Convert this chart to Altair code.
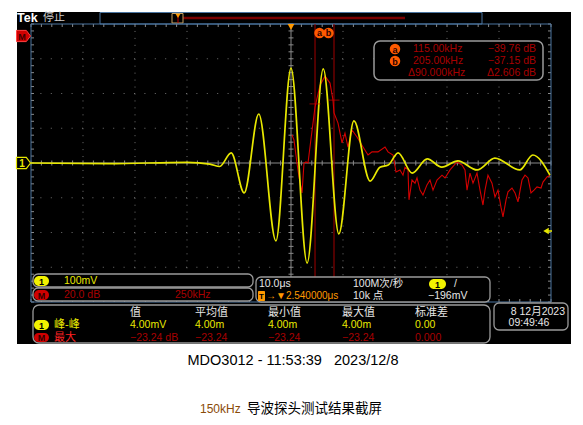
import altair as alt
import pandas as pd

# ---------------- data ----------------
# CH1 (yellow) time-domain trace: time in µs (10 µs/div, trigger at centre), voltage in mV (100 mV/div)
ch1_time = [-50, -35, -20, -15.6, -13.7, -11.5, -9.0, -6.2, -2.9, 0.0, 3.1, 6.2, 9.2,
            12.1, 15.2, 17.1, 18.7, 20.6, 23.3, 26.2, 29.0, 32.1, 35.8, 39.2, 44.0, 46.5, 49.8]
ch1_mv = [0, -2, 2, -3, -10, 29, -86, 141, -224, 273, -288, 271, -204,
          121, -52, -12, -6, 29, -29, 12, -12, 6, -20, 14, -20, 23, -35]

# Math (red) FFT trace on the same graticule (horizontal µs-equivalent, vertical mV-equivalent)
fft_pos = [0.19, 0.58, 1.15, 1.54, 2.12, 2.5, 2.88, 3.27, 3.65, 4.62, 5.58, 6.54, 7.5, 8.08,
           8.27, 9.04, 9.81, 10.38, 10.96, 11.73, 12.69, 13.85, 14.81, 15.58, 16.73, 18.08,
           18.65, 19.62, 20.19, 20.96, 21.54, 21.92, 22.5, 22.69, 23.27, 23.85, 24.23, 24.81,
           25.38, 26.15, 26.73, 27.31, 28.08, 29.04, 29.62, 30.58, 31.92, 32.88, 33.46, 33.85,
           34.42, 35.0, 35.77, 36.35, 36.92, 37.31, 37.88, 38.65, 39.23, 39.81, 40.38, 40.77,
           41.35, 41.73, 42.5, 43.08, 43.65, 44.42, 45.0, 45.58, 46.15, 46.73, 47.31, 48.08,
           48.46, 49.23, 49.81]
fft_val = [81, 66, 0, -40, -86, 0, 3, 0, 46, 161, 224, 250, 230, 181,
           144, 115, 58, 86, 46, 95, 75, 46, 23, 32, 32, 46,
           32, 23, -26, -20, -35, -12, -20, -106, -49, -58, -43, -78,
           -92, -63, -49, -78, -49, -35, -43, -20, 3, -6, -20, -78,
           -29, -58, -29, -78, -121, -78, -35, -58, -98, -78, -127, -155,
           -106, -83, -72, -86, -112, -49, -35, -43, -86, -78, -69, -72,
           -55, -40, -35]

# cursors a / b
cursor_pos = [4.62, 8.27]
cursor_val = [170, 181]
cursor_freq = ["115.00kHz", "205.00kHz"]
cursor_db = ["−39.76 dB", "−37.15 dB"]
delta_freq = "Δ90.000kHz"
delta_db = "Δ2.606 dB"

# graticule
grid_time = [-40, -30, -20, -10, 10, 20, 30, 40]
grid_mv = [-300, -200, -100, 100, 200, 300]
minor_time = [i * 2 for i in range(-25, 26)]
minor_mv = [i * 20 for i in range(-20, 21)]

# measurement table
meas_headers = ["值", "平均值", "最小值", "最大值", "标准差"]
meas_ch1 = ["4.00mV", "4.00m", "4.00m", "4.00m", "0.00"]
meas_math = ["−23.24 dB", "−23.24", "−23.24", "−23.24", "0.000"]

# ---------------- layout ----------------
W, H = 520, 278
OX, OY = 31, 24
FONT = "Liberation Sans, Noto Sans CJK SC"
CJK = "Noto Sans CJK SC"
YEL = "#e8e800"
RED = "#d40000"
DRED = "#a80000"
ORG = "#ff9900"


def X(p):
    return p - OX


def Y(p):
    return p - OY


ONE = pd.DataFrame({"k": [0]})
xs = alt.Scale(domain=[-50, 50], nice=False, zero=False)
ys = alt.Scale(domain=[-400, 400], nice=False, zero=False)


def rect(x1, y1, x2, y2, fill="black", stroke=None, r=0, sw=1):
    kw = dict(cornerRadius=r)
    if fill is None:
        kw["fillOpacity"] = 0
        kw["fill"] = "black"
    else:
        kw["fill"] = fill
    if stroke:
        kw.update(stroke=stroke, strokeWidth=sw)
    return alt.Chart(ONE).mark_rect(**kw).encode(
        x=alt.value(X(x1)), x2=alt.value(X(x2)), y=alt.value(Y(y1)), y2=alt.value(Y(y2)))


def seg(x1, y1, x2, y2, color, sw=1):
    return alt.Chart(ONE).mark_rule(color=color, strokeWidth=sw).encode(
        x=alt.value(X(x1)), x2=alt.value(X(x2)), y=alt.value(Y(y1)), y2=alt.value(Y(y2)))


def text(s, x, y, color, size=10, align="left", bold=False, font=FONT):
    return alt.Chart(ONE).mark_text(
        text=s, align=align, baseline="middle", color=color, fontSize=size, font=font,
        fontWeight="bold" if bold else "normal").encode(x=alt.value(X(x)), y=alt.value(Y(y)))


def sym(x, y, shape, size, fill, stroke=None, sw=1):
    kw = dict(shape=shape, size=size, filled=True, color=fill, opacity=1)
    if stroke:
        kw.update(stroke=stroke, strokeWidth=sw)
    return alt.Chart(ONE).mark_point(**kw).encode(x=alt.value(X(x)), y=alt.value(Y(y)))


layers = []
# black screenshot background
layers.append(rect(17, 12, 571, 344, fill="black"))

# top status bar
layers.append(text("Tek", 17, 18, "white", 12.5, bold=True))
layers.append(text("停止", 43, 18, "#cfcfcf", 11, font=CJK))
layers.append(rect(100, 12.5, 482, 24, fill=None, stroke="#4a74a0"))
layers.append(seg(183, 18, 405, 18, "#7a0000", 2.5))
layers.append(rect(172, 13.5, 183, 23, fill=None, stroke="#c8a060"))
layers.append(seg(178, 16, 178, 23, "#c00000", 1))
layers.append(sym(178, 16, "triangle-down", 22, ORG))

# graticule
tv = pd.DataFrame({"t": grid_time})
th = pd.DataFrame({"v": grid_mv})
mt = pd.DataFrame({"t": minor_time})
mv = pd.DataFrame({"v": minor_mv})
GC = "#707070"
layers.append(alt.Chart(tv).mark_rule(color=GC, strokeDash=[1, 5.95]).encode(
    x=alt.X("t:Q", scale=xs, axis=None)))
layers.append(alt.Chart(th).mark_rule(color=GC, strokeDash=[1, 9.4]).encode(
    y=alt.Y("v:Q", scale=ys, axis=None)))
layers.append(alt.Chart(pd.DataFrame({"t": [0]})).mark_rule(color="#8a8a8a").encode(
    x=alt.X("t:Q", scale=xs, axis=None)))
layers.append(alt.Chart(pd.DataFrame({"v": [0]})).mark_rule(color="#8a8a8a").encode(
    y=alt.Y("v:Q", scale=ys, axis=None)))
for (a, b) in [(H / 2 - 2.5, H / 2 + 2.5), (0, 3), (H - 3, H)]:
    layers.append(alt.Chart(mt).mark_rule(color="#8a8a8a").encode(
        x=alt.X("t:Q", scale=xs, axis=None), y=alt.value(a), y2=alt.value(b)))
for (a, b) in [(W / 2 - 2.5, W / 2 + 2.5), (0, 3), (W - 3, W)]:
    layers.append(alt.Chart(mv).mark_rule(color="#8a8a8a").encode(
        y=alt.Y("v:Q", scale=ys, axis=None), x=alt.value(a), x2=alt.value(b)))
layers.append(alt.Chart(ONE).mark_rect(fillOpacity=0, fill="black", stroke="#4a74a0", strokeWidth=1).encode(
    x=alt.value(0), x2=alt.value(W), y=alt.value(0), y2=alt.value(H)))

# cursors
cur = pd.DataFrame({"t": cursor_pos, "v": cursor_val})
layers.append(alt.Chart(cur).mark_rule(color="#a00000", strokeWidth=1).encode(
    x=alt.X("t:Q", scale=xs, axis=None)))

# traces
df1 = pd.DataFrame({"t": ch1_time, "mv": ch1_mv})
df2 = pd.DataFrame({"t": fft_pos, "v": fft_val})
layers.append(alt.Chart(df2).mark_line(color=RED, strokeWidth=1.1).encode(
    x=alt.X("t:Q", scale=xs, axis=None), y=alt.Y("v:Q", scale=ys, axis=None)))
layers.append(alt.Chart(df1).mark_line(color=YEL, strokeWidth=1.7, interpolate="monotone").encode(
    x=alt.X("t:Q", scale=xs, axis=None), y=alt.Y("mv:Q", scale=ys, axis=None)))
layers.append(alt.Chart(cur).mark_tick(orient="horizontal", color="#d00000", size=11, thickness=1).encode(
    x=alt.X("t:Q", scale=xs, axis=None), y=alt.Y("v:Q", scale=ys, axis=None)))

# cursor label "ab"
layers.append(sym(319.5, 33, "circle", 110, "#ff5a00"))
layers.append(sym(328.5, 33, "circle", 110, "#ff5a00"))
layers.append(text("a", 319.5, 33, "#2a0000", 9, "center", True))
layers.append(text("b", 328.5, 33, "#2a0000", 9, "center", True))

# markers
PENT = "M -1 -0.8 L 0.4 -0.8 L 1 0 L 0.4 0.8 L -1 0.8 Z"
layers.append(sym(23.5, 36, PENT, 196, "#d00000", "#ff4040"))
layers.append(text("M", 22, 36.5, "#3a0000", 9, "center", True))
layers.append(sym(23.5, 163, PENT, 196, "black", YEL, 1.2))
layers.append(text("1", 22, 163.5, YEL, 10, "center", True))
layers.append(sym(291, 27, "triangle-down", 45, ORG))
layers.append(sym(546, 231, "triangle-left", 40, YEL))
layers.append(seg(546, 231, 552, 231, YEL, 1.5))

# cursor readout
layers.append(rect(374, 41, 543, 80, fill="black", stroke="#9a9a9a", r=6, sw=1.5))
for i, yy in enumerate([49, 61]):
    layers.append(sym(395, yy, "circle", 110, "#ff5a00"))
    layers.append(text("ab"[i], 395, yy + 0.5, "#2a0000", 9, "center", True))
    layers.append(text(cursor_freq[i], 413, yy, DRED, 10.5))
    layers.append(text(cursor_db[i], 536, yy, DRED, 10.5, "right"))
layers.append(text(delta_freq, 408, 73, DRED, 10.5))
layers.append(text(delta_db, 536, 73, DRED, 10.5, "right"))

# bottom readout panels
PS = "#9a9a9a"
layers.append(rect(33, 274, 253, 287, fill="black", stroke=PS, r=5, sw=1.3))
layers.append(rect(33, 288, 253, 301, fill="black", stroke=PS, r=5, sw=1.3))
layers.append(rect(256, 277, 490, 302, fill="black", stroke=PS, r=5, sw=1.3))
layers.append(rect(33, 305, 490, 343, fill="black", stroke=PS, r=6, sw=1.3))
layers.append(rect(494, 303, 568, 330, fill="black", stroke=PS, r=5, sw=1.3))

# box A / B
layers.append(rect(34, 276, 49, 286, fill="#f2f200", r=5))
layers.append(text("1", 41.5, 281.5, "black", 9, "center", True))
layers.append(text("100mV", 64, 281, YEL, 10.5))
layers.append(rect(34, 290, 49, 300, fill="#d00000", r=5))
layers.append(text("M", 41.5, 295.5, "#300000", 9, "center", True))
layers.append(text("20.0 dB", 64, 295, DRED, 10.5))
layers.append(text("250kHz", 175, 295, DRED, 10.5))

# box C
layers.append(text("10.0μs", 259, 284, "#e6e6e6", 10.5))
layers.append(text("100M次/秒", 353, 284, "#e6e6e6", 10.5))
layers.append(rect(429, 279, 446, 289, fill="#f2f200", r=5))
layers.append(text("1", 437.5, 284.5, "black", 9, "center", True))
layers.append(text("/", 454, 284, "#e6e6e6", 10.5))
layers.append(rect(258, 291, 265, 301, fill=ORG, r=1))
layers.append(text("T", 261.5, 296.5, "black", 8, "center", True))
layers.append(text("→▼2.540000μs", 266, 296, ORG, 10))
layers.append(text("10k 点", 353, 296, "#e6e6e6", 10.5))
layers.append(text("−196mV", 428, 296, "#e6e6e6", 10.5))

# box D (measurements)
cols = [130, 195, 268, 342, 415]
for c, s in zip(cols, meas_headers):
    layers.append(text(s, c, 313, "#e6e6e6", 11))
layers.append(rect(34, 320, 49, 330, fill="#f2f200", r=5))
layers.append(text("1", 41.5, 325.5, "black", 9, "center", True))
layers.append(text("峰-峰", 54, 325, YEL, 11))
layers.append(rect(34, 333, 49, 342, fill="#d00000", r=5))
layers.append(text("M", 41.5, 338, "#300000", 9, "center", True))
layers.append(text("最大", 54, 338, "#ff2020", 11))
for c, s in zip(cols, meas_ch1):
    layers.append(text(s, c, 325, YEL, 10.5))
for c, s in zip(cols, meas_math):
    layers.append(text(s, c, 338, DRED, 10.5))

# box E (date)
layers.append(text("8 12月2023", 565, 312, "#e6e6e6", 10.5, "right"))
layers.append(text("09:49:46", 529, 323, "#e6e6e6", 10.5, "center"))

# captions below the screenshot
layers.append(text("MDO3012 - 11:53:39\u00a0\u00a0\u00a02023/12/8", 293, 361, "black", 14.5, "center"))
layers.append(text("150kHz", 200, 409, "#8a4b08", 12))
layers.append(text("导波探头测试结果截屏", 247, 409, "black", 13.5, font=CJK))

chart = alt.layer(*layers).properties(
    width=W, height=H,
    padding={"left": OX - 8, "top": OY - 8, "right": 24, "bottom": 115},
    autosize=alt.AutoSizeParams(type="none"),
).configure_view(stroke=None).configure(background="white")

chart.save("out.html", embed_options={"renderer": "svg", "actions": False})
